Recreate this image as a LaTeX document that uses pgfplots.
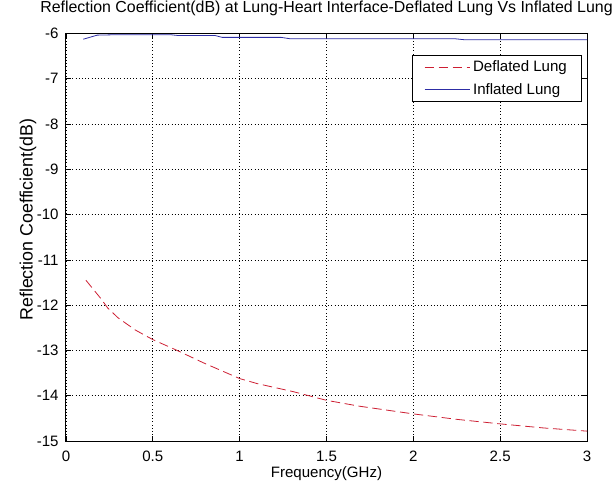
\documentclass[border=0pt]{standalone}
\usepackage{pgfplots}
\pgfplotsset{compat=1.18}
\usepackage{fontspec}
\setmainfont{Liberation Sans}
\definecolor{mred}{RGB}{205,30,50}
\definecolor{mblue}{RGB}{45,45,165}
\begin{document}
\begin{tikzpicture}
\begin{axis}[
  at={(0,0)}, anchor=south west,
  scale only axis, width=391pt, height=306pt,
  xmin=0, xmax=3, ymin=-15, ymax=-6,
  xtick={0,0.5,...,3}, ytick={-15,-14,...,-6},
  /pgf/number format/assume math mode=true,
  tick label style={font=\fontsize{11.3}{13}\selectfont},
  xticklabel style={anchor=base, yshift=-15pt},
  yticklabel style={anchor=east, xshift=-2pt},
  grid=major,
  major grid style={dotted, black, line width=0.5pt},
  tick align=inside, major tick length=4pt,
  tick style={black, line width=0.5pt},
  axis line style={line width=0.7pt},
  title={Reflection Coefficient(dB) at Lung-Heart Interface-Deflated Lung Vs Inflated Lung},
  title style={font=\fontsize{11.95}{13}\selectfont, at={(0.5,1)}, anchor=base, yshift=9.5pt},
  xlabel={Frequency(GHz)},
  ylabel={Reflection Coefficient(dB)},
  xlabel style={font=\fontsize{11.3}{13}\selectfont, at={(axis description cs:0.5,0)}, anchor=base, yshift=-27.5pt},
  ylabel style={font=\fontsize{13.4}{15}\selectfont, at={(axis description cs:0,0.543)}, anchor=base, yshift=25pt},
  legend style={at={(0.99,0.947)}, anchor=north east, draw,
    font=\fontsize{11.3}{13}\selectfont, row sep=3.25pt, inner xsep=9pt, inner ysep=2pt},
  legend cell align=left,
  legend image code/.code={\draw[line width=0.7pt,#1] (0pt,0pt) -- (34pt,0pt);},
]
\addplot[color=mred, dash pattern=on 7pt off 3.5pt, line width=0.6pt] coordinates {
(0.115,-11.45) (0.2,-11.85) (0.24,-12.06) (0.3,-12.28) (0.4,-12.55) (0.5,-12.76)
(0.635,-12.99) (0.79,-13.27) (1.0,-13.62) (1.1,-13.73) (1.31,-13.91) (1.5,-14.10)
(1.69,-14.23) (2.0,-14.40) (2.25,-14.52) (2.5,-14.62) (2.75,-14.71) (3.0,-14.78)
};
\addlegendentry{Deflated Lung\hspace{-6pt}}
\addplot[color=mblue, line width=0.6pt] coordinates {
(0.1,-6.13) (0.18,-6.04) (0.3,-6.03) (0.6,-6.03) (0.65,-6.05) (0.86,-6.05)
(0.9,-6.09) (1.24,-6.09) (1.29,-6.12) (2.24,-6.12) (2.29,-6.14) (3.0,-6.14)
};
\addlegendentry{Inflated Lung\hspace{-6pt}}
\end{axis}
\pgfresetboundingbox
\path[use as bounding box] (-49.5pt,-36.2pt) rectangle (410.5pt,331pt);
\end{tikzpicture}
\end{document}
